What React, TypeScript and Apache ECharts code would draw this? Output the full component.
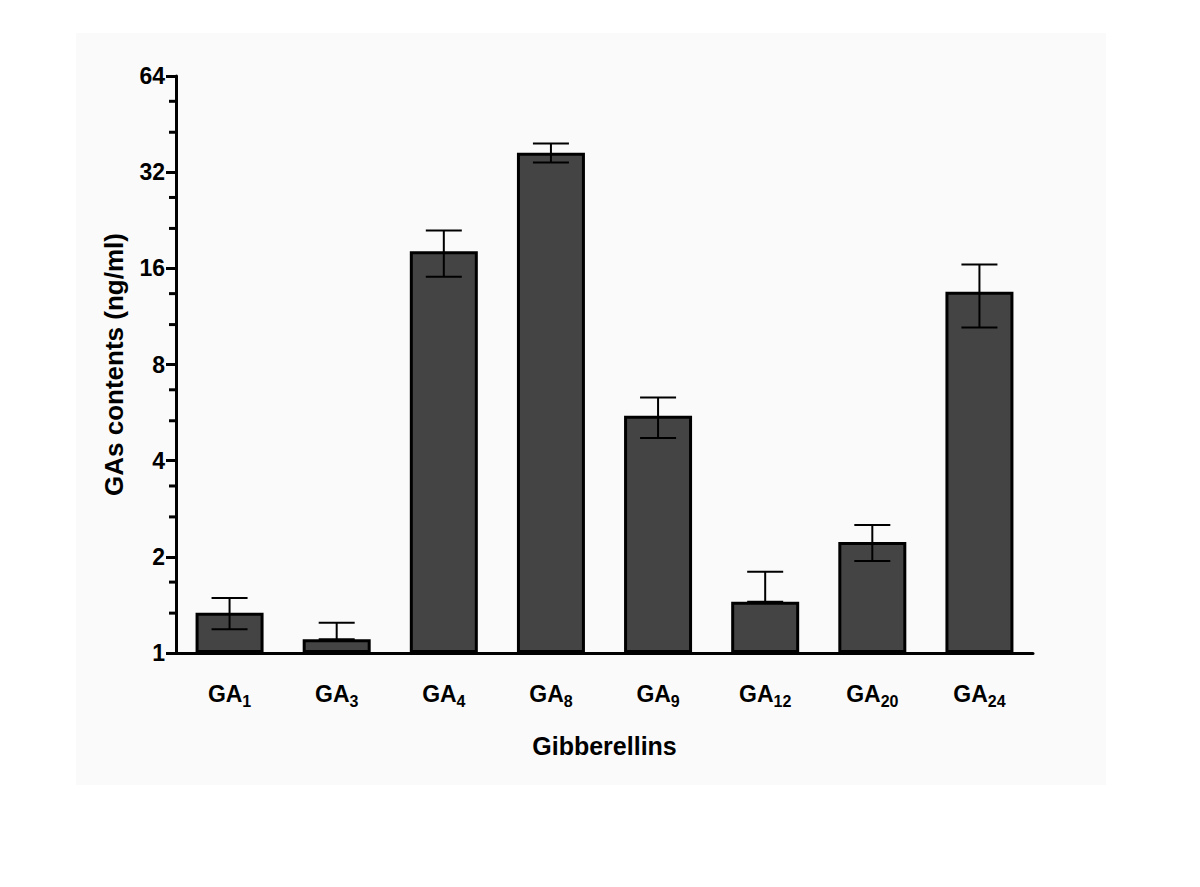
import React, { useEffect, useRef } from "react";
import * as echarts from "echarts";

const categories = ["GA1", "GA3", "GA4", "GA8", "GA9", "GA12", "GA20", "GA24"];
const means = [1.337, 1.104, 18.11, 36.8, 5.53, 1.447, 2.225, 13.51];
const errLow = [1.186, 1.104, 15.05, 34.3, 4.71, 1.447, 1.94, 10.45];
const errHigh = [1.486, 1.244, 21.02, 39.35, 6.31, 1.796, 2.515, 16.45];
const minorTicks = [1.333, 1.667, 2.667, 3.333, 5.333, 6.667, 10.667, 13.333, 21.333, 26.667, 42.667, 53.333];
const yTitle = "GAs contents (ng/ml)";
const xTitle = "Gibberellins";

const FONT = "'Liberation Sans', Arial, Helvetica, sans-serif";

export default function App() {
  const ref = useRef<HTMLDivElement>(null);
  useEffect(() => {
    if (!ref.current) return;
    const chart = echarts.init(ref.current, undefined, { renderer: "svg" });
    const option: any = {
      animation: false,
      backgroundColor: "#ffffff",
      textStyle: { fontFamily: FONT },
      graphic: [
        {
          type: "rect",
          z: -10,
          silent: true,
          shape: { x: 76, y: 33, width: 1030, height: 752 },
          style: { fill: "#fafafa" },
        },
      ],
      grid: { left: 176, right: 167, top: 76, bottom: 234, containLabel: false, outerBoundsMode: "none" },
      xAxis: {
        type: "category",
        data: categories,
        name: xTitle,
        nameLocation: "middle",
        nameGap: 80,
        nameTextStyle: { fontSize: 25, fontWeight: "bold", color: "#000", fontFamily: FONT },
        axisLine: { lineStyle: { color: "#000", width: 3 } },
        axisTick: { alignWithLabel: true, length: 10, lineStyle: { color: "#000", width: 3 } },
        axisLabel: {
          margin: 25,
          color: "#000",
          formatter: (v: string) => `{a|GA}{b|${v.replace(/^GA/, "")}}`,
          rich: {
            a: { fontSize: 23, fontWeight: "bold", color: "#000", fontFamily: FONT, lineHeight: 31 },
            b: { fontSize: 16, fontWeight: "bold", color: "#000", fontFamily: FONT, lineHeight: 16, verticalAlign: "bottom" },
          },
        },
        splitLine: { show: false },
      },
      yAxis: {
        type: "log",
        logBase: 2,
        min: 1,
        max: 64,
        splitNumber: 6,
        name: yTitle,
        nameLocation: "middle",
        nameGap: 49,
        nameTextStyle: { fontSize: 26, fontWeight: "bold", color: "#000", fontFamily: FONT },
        axisLine: { show: true, lineStyle: { color: "#000", width: 3 } },
        axisTick: { show: true, length: 10, lineStyle: { color: "#000", width: 3 } },
        axisLabel: { fontSize: 23, fontWeight: "bold", color: "#000", margin: 11, fontFamily: FONT },
        splitLine: { show: false },
      },
      series: [
        {
          type: "bar",
          data: means,
          barWidth: 68,
          itemStyle: { color: "#444444", borderColor: "#000", borderWidth: 3 },
          z: 2,
        },
        {
          type: "custom",
          data: categories.map((_, i) => [i, errLow[i], errHigh[i]]),
          encode: { x: 0, y: [1, 2] },
          clip: false,
          z: 5,
          renderItem: (params: any, api: any) => {
            const i = api.value(0);
            const lo = api.coord([i, api.value(1)]);
            const hi = api.coord([i, api.value(2)]);
            const hw = 18;
            const style = { stroke: "#000", lineWidth: 2 };
            return {
              type: "group",
              children: [
                { type: "line", shape: { x1: hi[0], y1: hi[1], x2: lo[0], y2: lo[1] }, style },
                { type: "line", shape: { x1: hi[0] - hw, y1: hi[1], x2: hi[0] + hw, y2: hi[1] }, style },
                { type: "line", shape: { x1: lo[0] - hw, y1: lo[1], x2: lo[0] + hw, y2: lo[1] }, style },
              ],
            };
          },
        },
        {
          type: "custom",
          data: minorTicks.map((v) => [0, v]),
          encode: { x: 0, y: 1 },
          clip: false,
          z: 5,
          renderItem: (params: any, api: any) => {
            const p = api.coord([0, api.value(1)]);
            const x = params.coordSys.x;
            return {
              type: "line",
              shape: { x1: x - 7, y1: p[1], x2: x - 1, y2: p[1] },
              style: { stroke: "#000", lineWidth: 3 },
            };
          },
        },
      ],
    };
    chart.setOption(option);
    return () => chart.dispose();
  }, []);
  return <div ref={ref} style={{ position: "fixed", left: 0, top: 0, width: 1200, height: 887 }} />;
}
